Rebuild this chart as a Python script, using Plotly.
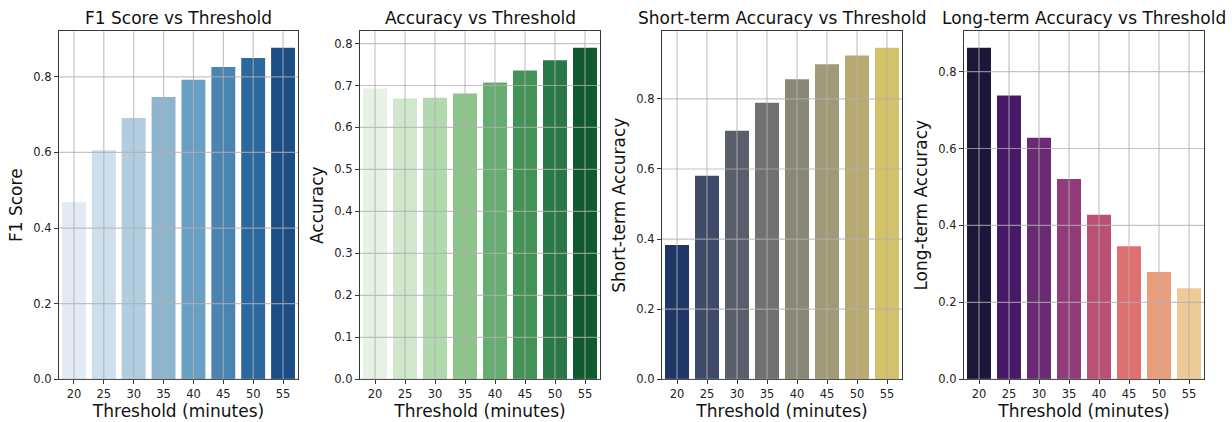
import plotly.graph_objects as go

thresholds = ["20", "25", "30", "35", "40", "45", "50", "55"]
f1_score = [0.468, 0.606, 0.691, 0.747, 0.792, 0.826, 0.850, 0.877]
accuracy = [0.693, 0.669, 0.671, 0.681, 0.707, 0.736, 0.760, 0.790]
short_acc = [0.383, 0.581, 0.709, 0.789, 0.856, 0.899, 0.924, 0.946]
long_acc = [0.862, 0.738, 0.628, 0.521, 0.428, 0.346, 0.279, 0.237]

titles = ["F1 Score vs Threshold", "Accuracy vs Threshold",
          "Short-term Accuracy vs Threshold", "Long-term Accuracy vs Threshold"]
ylabels = ["F1 Score", "Accuracy", "Short-term Accuracy", "Long-term Accuracy"]
yticks = [[0, 0.2, 0.4, 0.6, 0.8],
          [0, 0.1, 0.2, 0.3, 0.4, 0.5, 0.6, 0.7, 0.8],
          [0, 0.2, 0.4, 0.6, 0.8],
          [0, 0.2, 0.4, 0.6, 0.8]]

blues = ["#e2eaf4", "#cddeec", "#b2cde0", "#8db5ce", "#689fc3", "#4a84b0", "#2c689f", "#1c4e86"]
greens = ["#e7f2e4", "#d0e7cc", "#b2d8ae", "#8cc48a", "#67ad72", "#439359", "#2a7747", "#0f5a2e"]
cividis = ["#1f3766", "#3e4a67", "#5a5e6b", "#717171", "#8a8777", "#a19a79", "#b8aa71", "#d2c268"]
magma = ["#1c1638", "#461a67", "#6b2b74", "#913c79", "#bb5075", "#de706f", "#ea9d7a", "#eeca98"]

series = [f1_score, accuracy, short_acc, long_acc]
palettes = [blues, greens, cividis, magma]

W, H = 1232, 431
HV = 422
lefts = [59, 360, 662, 964]
rights = [298, 600, 902, 1204]
top_px, bot_px = 31, 377.5
font = "DejaVu Sans"
grid_col = "rgba(176,176,176,0.75)"

fig = go.Figure()
shapes = []
annotations = []
for i in range(4):
    n = "" if i == 0 else str(i + 1)
    xa, ya = "x" + n, "y" + n
    vals = series[i]
    fig.add_trace(go.Bar(x=thresholds, y=vals, marker=dict(color=palettes[i], line=dict(width=0)),
                         xaxis=xa, yaxis=ya, showlegend=False, width=0.8, hoverinfo="skip"))
    ymax = max(vals) * 1.05
    axkw = dict(showline=True, mirror=True, linecolor="#383838", linewidth=1.2,
                ticks="outside", ticklen=4, tickcolor="#383838", tickwidth=1,
                showgrid=False, zeroline=False,
                tickfont=dict(family=font, size=11.5, color="#222"))
    fig.layout["xaxis" + n] = dict(
        domain=[lefts[i] / W, rights[i] / W], anchor=ya, type="category",
        range=[-0.5, 7.5],
        title=dict(text="Threshold (minutes)", font=dict(family=font, size=17, color="#111"), standoff=3),
        **axkw)
    fig.layout["yaxis" + n] = dict(
        domain=[1 - bot_px / HV, 1 - top_px / HV], anchor=xa, range=[0, ymax],
        tickvals=yticks[i], tickformat=".1f",
        title=dict(text=ylabels[i], font=dict(family=font, size=17, color="#111"), standoff=6),
        **axkw)
    for t in yticks[i]:
        shapes.append(dict(type="line", xref=xa + " domain", yref=ya, x0=0, x1=1, y0=t, y1=t,
                           line=dict(color=grid_col, width=1.2), layer="above"))
    for j in range(len(thresholds)):
        shapes.append(dict(type="line", xref=xa, yref=ya + " domain", x0=j, x1=j, y0=0, y1=1,
                           line=dict(color=grid_col, width=1.2), layer="above"))
    annotations.append(dict(text=titles[i], xref="paper", yref="paper",
                            x=(lefts[i] + rights[i]) / 2 / W, y=1 - top_px / HV + 1 / HV,
                            xanchor="center", yanchor="bottom", showarrow=False,
                            font=dict(family=font, size=17, color="#111")))

fig.update_layout(width=W, height=H, margin=dict(l=0, r=0, t=0, b=0),
                  plot_bgcolor="white", paper_bgcolor="white",
                  shapes=shapes, annotations=annotations, bargap=0.2)
fig.write_html("out.html", config={"displayModeBar": False},
               post_script="document.body.style.margin='0';document.body.style.overflow='hidden';"
                           "document.documentElement.style.overflow='hidden';")
